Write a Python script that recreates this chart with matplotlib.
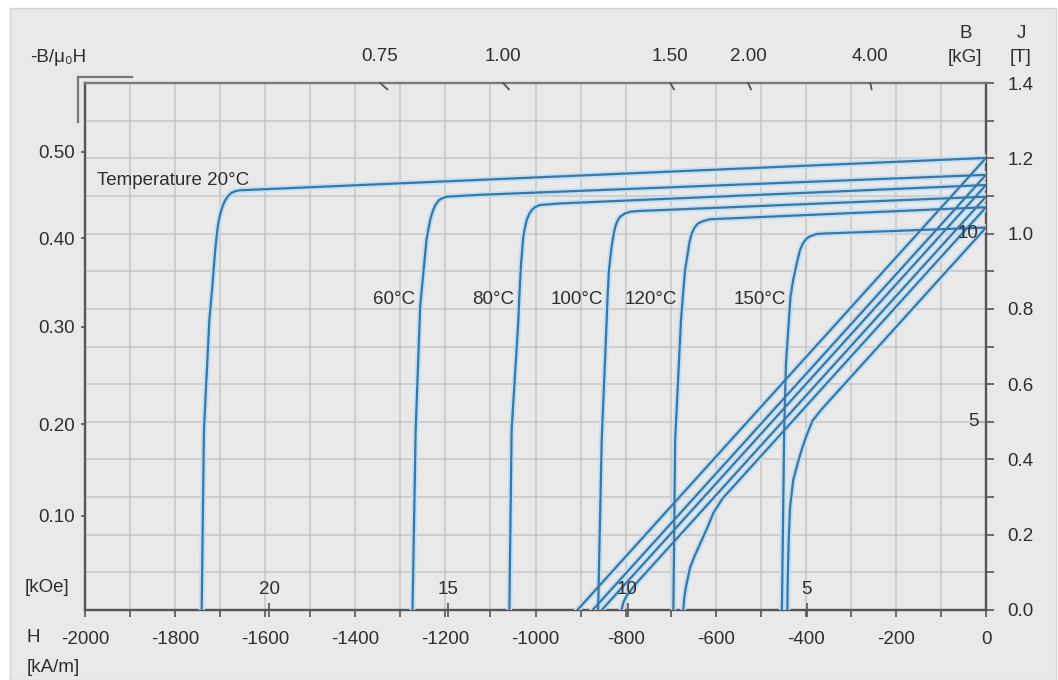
import numpy as np
import matplotlib.pyplot as plt
from matplotlib.lines import Line2D
from matplotlib.patches import Rectangle

plt.rcParams['font.family'] = ['Liberation Sans', 'DejaVu Sans']
plt.rcParams['axes.unicode_minus'] = False

# intrinsic curves J(H): H in kA/m, J in T
j20_h = [0, -1656, -1666, -1675, -1683, -1689, -1694, -1698, -1702, -1705, -1708, -1711,
         -1718, -1724, -1736, -1741]
j20_j = [1.201, 1.115, 1.113, 1.108, 1.099, 1.088, 1.075, 1.060, 1.040, 1.020, 0.990, 0.956,
         0.850, 0.770, 0.478, 0.0]
j60_h = [0, -1123, -1197, -1207, -1215, -1221, -1226, -1230, -1234, -1238, -1242, -1249,
         -1256, -1266, -1273]
j60_j = [1.156, 1.103, 1.098, 1.094, 1.088, 1.078, 1.066, 1.052, 1.035, 1.010, 0.983, 0.895,
         0.806, 0.478, 0.0]
j80_h = [0, -946, -990, -1000, -1008, -1014, -1019, -1023, -1027, -1032, -1036, -1038,
         -1053, -1058]
j80_j = [1.129, 1.080, 1.076, 1.071, 1.063, 1.052, 1.038, 1.018, 0.992, 0.921, 0.832, 0.770,
         0.478, 0.0]
j100_h = [0, -770, -790, -802, -812, -818, -823, -827, -831, -837, -840, -842, -853, -861]
j100_j = [1.098, 1.060, 1.058, 1.053, 1.045, 1.034, 1.018, 0.995, 0.965, 0.903, 0.832, 0.770,
          0.452, 0.0]
j120_h = [0, -595, -613, -628, -639, -647, -653, -658, -662, -668, -673, -677, -690, -694]
j120_j = [1.070, 1.039, 1.038, 1.033, 1.027, 1.016, 1.001, 0.978, 0.948, 0.903, 0.832, 0.770,
          0.452, 0.0]
j150_h = [0, -360, -376, -390, -398, -406, -413, -420, -428, -434, -439, -444, -446, -448, -453]
j150_j = [1.016, 1.000, 0.999, 0.993, 0.987, 0.975, 0.956, 0.921, 0.877, 0.832, 0.744, 0.655,
          0.567, 0.478, 0.0]

# normal curves B(H)
b20_h = [0, -907]
b20_b = [1.201, 0.0]
b60_h = [0, -873]
b60_b = [1.156, 0.0]
b80_h = [0, -853]
b80_b = [1.129, 0.0]
b100_h = [0, -780, -798, -805, -809]
b100_b = [1.098, 0.066, 0.037, 0.020, 0.0]
b120_h = [0, -585, -605, -620, -635, -648, -657, -666, -670, -672]
b120_b = [1.070, 0.296, 0.258, 0.215, 0.175, 0.140, 0.112, 0.062, 0.030, 0.0]
b150_h = [0, -365, -385, -398, -408, -418, -428, -435, -438, -440, -441]
b150_b = [1.016, 0.533, 0.503, 0.465, 0.430, 0.390, 0.345, 0.272, 0.184, 0.090, 0.0]

temp_labels = ['60°C', '80°C', '100°C', '120°C', '150°C']

# auxiliary scales
koe_ticks = [20, 15, 10, 5]
kg_right_ticks = [5, 10]
top_b_labels = ['0.75', '1.00', '1.50', '2.00', '4.00']
top_b_pos = [-1345, -1072, -701, -528, -257]
left_p_labels = ['0.50', '0.40', '0.30', '0.20', '0.10']
left_p_pos = [1.217, 0.988, 0.752, 0.494, 0.250]

KA_PER_KOE = 79.577

W, H = 1058, 680
fs = 13.5
txt = '#2e2e2e'
axc = '#555555'
core = '#3b77a6'
halo = '#c2e0f3'

fig = plt.figure(figsize=(W / 100, H / 100), dpi=100)
fig.patch.set_facecolor('white')
fig.add_artist(Rectangle((10 / W, 0), 1 - 12 / W, 1 - 8 / H, transform=fig.transFigure,
                         facecolor='#e9e9e9', edgecolor='#d2d2d2', lw=1, zorder=-10))

ax = fig.add_axes([85 / W, 1 - 610 / H, (986 - 85) / W, (610 - 83) / H])
ax.set_facecolor('none')
ax.set_xlim(-2000, 0)
ax.set_ylim(0, 1.4)
ax.set_axisbelow(True)

ax.set_xticks(np.arange(-2000, 1, 200))
ax.set_xticks(np.arange(-2000, 1, 100), minor=True)
ax.set_yticks(np.arange(0, 1.41, 0.2))
ax.set_yticks(np.arange(0, 1.41, 0.1), minor=True)
ax.yaxis.set_major_formatter('{x:.1f}')
ax.yaxis.tick_right()
ax.grid(which='both', color='#c6c6c6', lw=1.1)

ax.tick_params(axis='x', which='both', direction='out', length=5, width=1.2,
               color=axc, labelsize=fs, labelcolor=txt, pad=10)
ax.tick_params(axis='y', which='both', direction='out', length=5.5, width=1.2,
               color=axc, labelsize=fs, labelcolor=txt, pad=10)

for s in ax.spines.values():
    s.set_color(axc)
    s.set_linewidth(1.7)
ax.spines['top'].set_color('#7a7a7a')

# curves
j_curves = [(j20_h, j20_j), (j60_h, j60_j), (j80_h, j80_j),
            (j100_h, j100_j), (j120_h, j120_j), (j150_h, j150_j)]
b_curves = [(b20_h, b20_b), (b60_h, b60_b), (b80_h, b80_b),
            (b100_h, b100_b), (b120_h, b120_b), (b150_h, b150_b)]
for hh, vv in j_curves + b_curves:
    ax.plot(hh, vv, color=halo, lw=4.2, solid_joinstyle='round', zorder=3)
for hh, vv in j_curves + b_curves:
    ax.plot(hh, vv, color=core, lw=1.6, solid_joinstyle='round', zorder=4)

ax.text(-1973, 1.142, 'Temperature 20°C', fontsize=fs, color=txt, ha='left', va='center', zorder=5)
for lab, hx in zip(temp_labels, [-1314, -1095, -909, -744, -502]):
    ax.text(hx, 0.826, lab, fontsize=fs, color=txt, ha='center', va='center', zorder=5)

# kOe scale inside bottom
secx = ax.secondary_xaxis('bottom', functions=(lambda h: h / KA_PER_KOE, lambda k: k * KA_PER_KOE))
secx.set_xticks([-k for k in koe_ticks], labels=[str(k) for k in koe_ticks])
secx.tick_params(direction='inout', length=10, width=1.2, color=axc,
                 labelsize=fs, labelcolor=txt, pad=-26)
secx.spines['bottom'].set_visible(False)
secx.set_zorder(10)

# B [kG] scale on top
secxt = ax.secondary_xaxis('top')
secxt.set_xticks(top_b_pos, labels=top_b_labels)
secxt.tick_params(length=0, labelsize=fs, labelcolor=txt, pad=13)
secxt.spines['top'].set_visible(False)
for hx in top_b_pos:
    t = 0.012
    ax.plot([hx, hx * (1 - t)], [1.4, 1.4 * (1 - t)], color=axc, lw=1.3,
            clip_on=False, zorder=6)

# -B/mu0H scale on left
secyl = ax.secondary_yaxis('left')
secyl.set_yticks(left_p_pos, labels=left_p_labels)
secyl.tick_params(direction='out', length=3, width=1.2, color=axc,
                  labelsize=fs, labelcolor=txt, pad=4)
secyl.spines['left'].set_visible(False)

# kG ticks inside right
secyr = ax.secondary_yaxis('right', functions=(lambda j: j * 10, lambda k: k / 10))
secyr.set_yticks(kg_right_ticks, labels=['' for k in kg_right_ticks])
secyr.tick_params(direction='in', length=6, width=1.2, color=axc)
secyr.spines['right'].set_visible(False)
for k in kg_right_ticks:
    ax.text(-17, k / 10, str(k), fontsize=fs, color=txt, ha='right', va='center', zorder=5)

# axis captions
def ftext(x, y, s, ha='left'):
    fig.text(x / W, 1 - y / H, s, fontsize=fs, color=txt, ha=ha, va='center')

ftext(30, 58, '-B/μ₀H')
ftext(25, 587, '[kOe]')
ftext(27, 638, 'H')
ftext(27, 667, '[kA/m]')
ftext(966, 33, 'B', ha='center')
ftext(965, 58, '[kG]', ha='center')
ftext(1021, 33, 'J', ha='center')
ftext(1021, 58, '[T]', ha='center')

# bracket mark at top-left corner
for xs, ys in [([78, 78], [77, 122]), ([78, 132], [77, 77])]:
    fig.add_artist(Line2D([x / W for x in xs], [1 - y / H for y in ys],
                          transform=fig.transFigure, color='#777777', lw=1.6))

fig.savefig('out.png', dpi=100, facecolor=fig.get_facecolor())
